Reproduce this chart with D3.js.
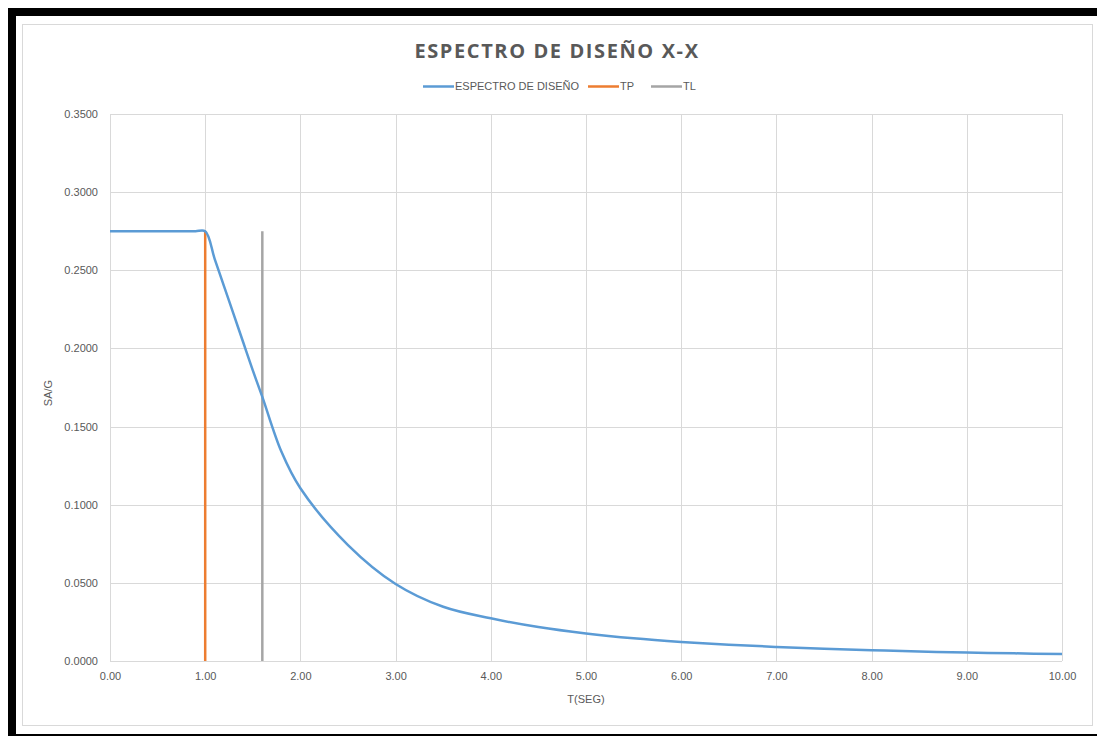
<!DOCTYPE html>
<html>
<head>
<meta charset="utf-8">
<script src="https://cdn.jsdelivr.net/npm/d3@7/dist/d3.min.js"></script>
<style>
  html, body { margin: 0; padding: 0; background: #ffffff; }
  svg { display: block; }
  text { font-family: "Liberation Sans Narrow", "Liberation Sans", Arial, sans-serif; fill: #595959; }
</style>
</head>
<body>
<svg id="chart" width="1097" height="736"></svg>
<script>
// Period values (s) and spectral acceleration Sa/g
const periods = [0, 0.1, 0.2, 0.3, 0.4, 0.5, 0.6, 0.7, 0.8, 0.9, 1.0,
  1.1, 1.2, 1.3, 1.4, 1.5, 1.6, 1.8, 2.0, 2.5, 3.0, 3.5, 4.0,
  4.5, 5.0, 5.5, 6.0, 6.5, 7.0, 7.5, 8.0, 8.5, 9.0, 9.5, 10.0];
const saValues = [0.2750, 0.2750, 0.2750, 0.2750, 0.2750, 0.2750, 0.2750, 0.2750, 0.2750, 0.2750, 0.2750,
  0.2572, 0.2394, 0.2216, 0.2038, 0.1860, 0.1690, 0.1340, 0.1105, 0.0742, 0.0493, 0.0347, 0.0273,
  0.0217, 0.0176, 0.0145, 0.0122, 0.0104, 0.0090, 0.0078, 0.0069, 0.0061, 0.0054, 0.0049, 0.0044];

// Characteristic periods drawn as vertical markers
const tpLine = [[1.0, 0], [1.0, 0.2750]];
const tlLine = [[1.6, 0], [1.6, 0.2750]];

const xTicks = [0, 1, 2, 3, 4, 5, 6, 7, 8, 9, 10];
const yTicks = [0, 0.05, 0.10, 0.15, 0.20, 0.25, 0.30, 0.35];

const legendItems = [
  { label: "ESPECTRO DE DISEÑO", color: "#5b9bd5" },
  { label: "TP", color: "#ed7d31" },
  { label: "TL", color: "#a5a5a5" }
];

const svg = d3.select("#chart");

// Outer frame: thick black border on top, left and bottom
svg.append("rect").attr("x", 8).attr("y", 8).attr("width", 1089).attr("height", 8).attr("fill", "#000");
svg.append("rect").attr("x", 8).attr("y", 8).attr("width", 8).attr("height", 728).attr("fill", "#000");
svg.append("rect").attr("x", 8).attr("y", 734).attr("width", 1089).attr("height", 2).attr("fill", "#000");

// Chart area border
svg.append("rect").attr("x", 22.5).attr("y", 24.5).attr("width", 1070).attr("height", 701)
  .attr("fill", "#fff").attr("stroke", "#d9d9d9").attr("stroke-width", 1);

const plot = { left: 110, right: 1062, top: 114, bottom: 661 };

const x = d3.scaleLinear().domain([0, 10]).range([plot.left, plot.right]);
const y = d3.scaleLinear().domain([0, 0.35]).range([plot.bottom, plot.top]);

// Gridlines
const grid = svg.append("g");
grid.selectAll(".gx").data(xTicks).enter().append("line")
  .attr("x1", d => Math.round(x(d)) + 0.5).attr("x2", d => Math.round(x(d)) + 0.5)
  .attr("y1", plot.top).attr("y2", plot.bottom)
  .attr("stroke", "#d9d9d9").attr("stroke-width", 1);
grid.selectAll(".gy").data(yTicks).enter().append("line")
  .attr("x1", plot.left).attr("x2", plot.right)
  .attr("y1", d => Math.round(y(d)) + 0.5).attr("y2", d => Math.round(y(d)) + 0.5)
  .attr("stroke", "#d9d9d9").attr("stroke-width", 1);

// Axes (labels only; the grid provides the lines)
const xAxis = d3.axisBottom(x).tickValues(xTicks).tickFormat(d3.format(".2f")).tickSize(0).tickPadding(11);
const gx = svg.append("g").attr("transform", `translate(0,${plot.bottom})`).call(xAxis);
gx.select(".domain").remove();
gx.selectAll("text").attr("font-size", 11).style("fill", "#595959")
  .style("font-family", '"Liberation Sans Narrow", "Liberation Sans", Arial, sans-serif');

const yAxis = d3.axisLeft(y).tickValues(yTicks).tickFormat(d3.format(".4f")).tickSize(0).tickPadding(12);
const gy = svg.append("g").attr("transform", `translate(${plot.left},0)`).call(yAxis);
gy.select(".domain").remove();
gy.selectAll("text").attr("font-size", 11).style("fill", "#595959")
  .style("font-family", '"Liberation Sans Narrow", "Liberation Sans", Arial, sans-serif');

// Series
const spectrum = periods.map((t, i) => [t, saValues[i]]);
const line = d3.line().x(d => x(d[0])).y(d => y(d[1]));

svg.append("path").datum(tpLine).attr("d", line)
  .attr("fill", "none").attr("stroke", "#ed7d31").attr("stroke-width", 2.5);
svg.append("path").datum(tlLine).attr("d", line)
  .attr("fill", "none").attr("stroke", "#a5a5a5").attr("stroke-width", 2.5);
svg.append("path").datum(spectrum)
  .attr("d", line.curve(d3.curveCatmullRom.alpha(0.5)))
  .attr("fill", "none").attr("stroke", "#5b9bd5").attr("stroke-width", 2.5)
  .attr("stroke-linejoin", "round");

// Title
svg.append("text").attr("x", 557).attr("y", 58).attr("text-anchor", "middle")
  .style("font-family", '"Open Sans", "DejaVu Sans", sans-serif')
  .attr("font-size", 20).attr("font-weight", "bold").attr("letter-spacing", 1.6)
  .style("fill", "#595959").text("ESPECTRO DE DISEÑO X-X");

// Legend
const legendPos = [423, 588, 651];
const lg = svg.append("g");
legendItems.forEach((item, i) => {
  const lx = legendPos[i];
  lg.append("line").attr("x1", lx).attr("x2", lx + 31).attr("y1", 86.5).attr("y2", 86.5)
    .attr("stroke", item.color).attr("stroke-width", 2.5);
  lg.append("text").attr("x", lx + 32).attr("y", 90).attr("font-size", 11)
    .style("fill", "#595959").text(item.label);
});

// Axis titles
svg.append("text").attr("x", 586).attr("y", 703).attr("text-anchor", "middle")
  .attr("font-size", 11).text("T(SEG)");
svg.append("text").attr("transform", "translate(52,393) rotate(-90)").attr("text-anchor", "middle")
  .attr("font-size", 11).text("SA/G");
</script>
</body>
</html>
